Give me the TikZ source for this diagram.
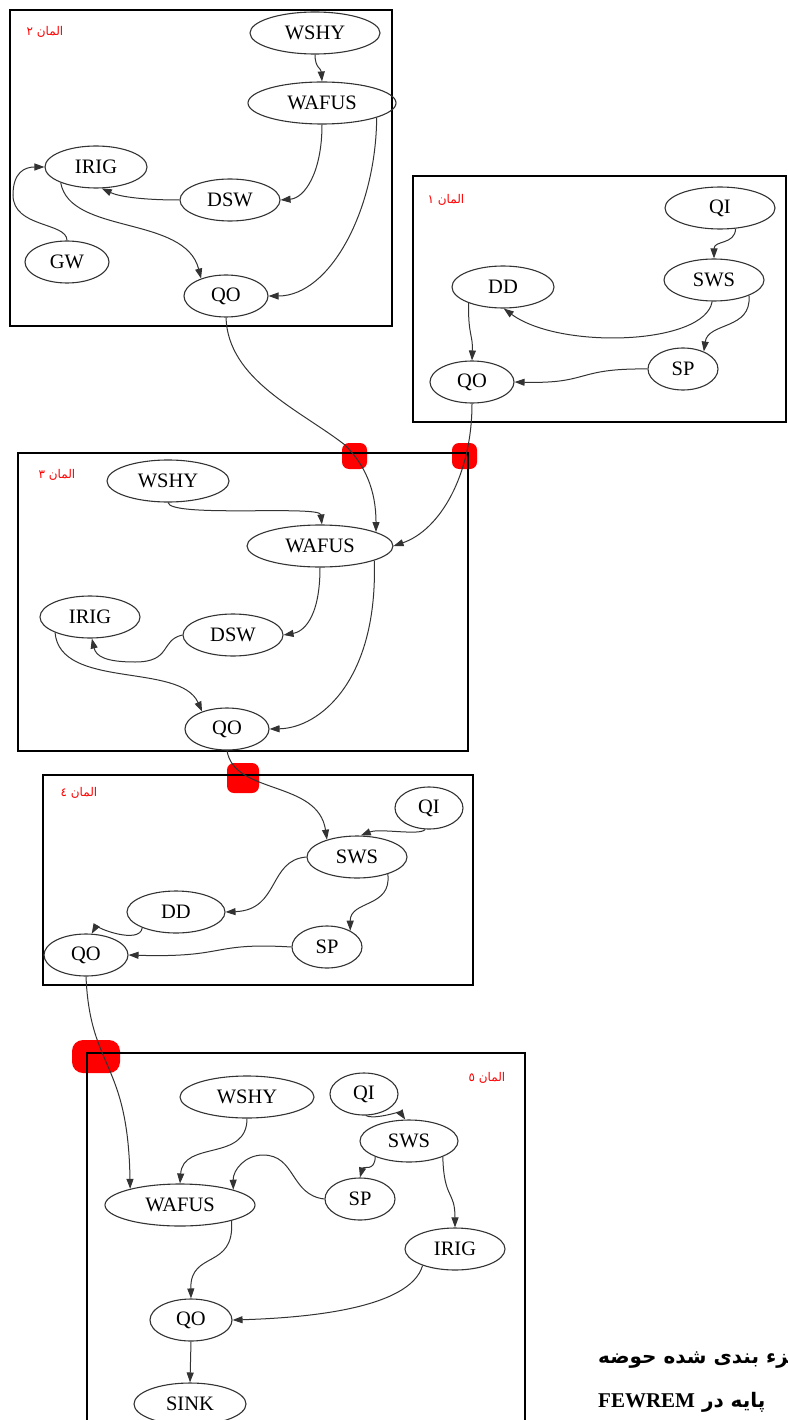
\documentclass[tikz,border=0pt]{standalone}
\usepackage{fontspec}
\usetikzlibrary{shapes.geometric,arrows.meta}
\TeXXeTstate=1
\newfontfamily\nodefont{Liberation Serif}
\newfontfamily\arabicfont[Script=Arabic]{DejaVu Sans}
\newfontfamily\capserif{Liberation Serif}
\tikzset{
  box/.style={draw=black, line width=2pt},
  nd/.style={draw=black!80, ellipse, line width=1.1pt, inner sep=0pt, minimum height=42pt,
             font=\nodefont\fontsize{20.5}{22}\selectfont},
  ed/.style={draw=black!80, line width=1pt, -{Triangle[length=10pt,width=7pt]}},
  reddot/.style={fill=red, rounded corners=7pt},
  lbl/.style={text=red, inner sep=0pt, font=\arabicfont\fontsize{12}{14}\selectfont},
  captxt/.style={inner sep=0pt, anchor=west, font=\arabicfont\bfseries\fontsize{20}{24}\selectfont}
}
\begin{document}
\begin{tikzpicture}[x=1pt,y=-1pt]
\useasboundingbox (0,0) rectangle (787,1420);
\fill[white] (0,0) rectangle (787,1420);

% red junction marks
\fill[reddot] (342,443) rectangle (367,469);
\fill[reddot] (452,443) rectangle (477,469);
\fill[reddot] (227,763) rectangle (259,793);
\fill[reddot, rounded corners=11pt] (72,1040) rectangle (120,1073);

% boxes
\draw[box] (10,10) rectangle (392,326);
\draw[box] (413,176) rectangle (786,422);
\draw[box] (18,453) rectangle (468,751);
\draw[box] (43,775) rectangle (473,985);
\draw[box] (87,1430) -- (87,1053) -- (525,1053) -- (525,1430);

% labels
\node[lbl] (lab2) at (45,32) {\beginR المان ٢\endR};
\node[lbl] (lab1) at (446,200) {\beginR المان ١\endR};
\node[lbl] (lab3) at (57,475) {\beginR المان ٣\endR};
\node[lbl] (lab4) at (79,793) {\beginR المان ٤\endR};
\node[lbl] (lab5) at (487,1078) {\beginR المان ٥\endR};

% ---- box 2
\node[nd, minimum width=130pt] (wshyB) at (315,33) {WSHY};
\node[nd, minimum width=148pt] (wafusB) at (322,103) {WAFUS};
\node[nd, minimum width=102pt] (irigB) at (96,167) {IRIG};
\node[nd, minimum width=100pt] (dswB) at (230,200) {DSW};
\node[nd, minimum width=84pt] (gwB) at (67,262) {GW};
\node[nd, minimum width=84pt] (qoB) at (226,296) {QO};
% ---- box 1
\node[nd, minimum width=110pt] (qiA) at (720,208) {QI};
\node[nd, minimum width=100pt] (swsA) at (714,280) {SWS};
\node[nd, minimum width=102pt] (ddA) at (503,287) {DD};
\node[nd, minimum width=70pt] (spA) at (683,369) {SP};
\node[nd, minimum width=84pt] (qoA) at (472,382) {QO};
% ---- box 3
\node[nd, minimum width=122pt] (wshyC) at (168,481) {WSHY};
\node[nd, minimum width=146pt] (wafusC) at (320,546) {WAFUS};
\node[nd, minimum width=100pt] (irigC) at (90,617) {IRIG};
\node[nd, minimum width=100pt] (dswC) at (233,635) {DSW};
\node[nd, minimum width=84pt] (qoC) at (227,729) {QO};
% ---- box 4
\node[nd, minimum width=68pt] (qiD) at (429,808) {QI};
\node[nd, minimum width=100pt] (swsD) at (357,857) {SWS};
\node[nd, minimum width=98pt] (ddD) at (176,912) {DD};
\node[nd, minimum width=70pt] (spD) at (327,947) {SP};
\node[nd, minimum width=84pt] (qoD) at (86,955) {QO};
% ---- box 5
\node[nd, minimum width=134pt] (wshyE) at (247,1097) {WSHY};
\node[nd, minimum width=68pt] (qiE) at (364,1094) {QI};
\node[nd, minimum width=98pt] (swsE) at (409,1141) {SWS};
\node[nd, minimum width=150pt] (wafusE) at (180,1205) {WAFUS};
\node[nd, minimum width=70pt] (spE) at (360,1199) {SP};
\node[nd, minimum width=100pt] (irigE) at (455,1249) {IRIG};
\node[nd, minimum width=82pt] (qoE) at (191,1320) {QO};
\node[nd, minimum width=112pt] (sinkE) at (190,1404) {SINK};

% ---- edges box 2
\draw[ed] (wshyB.south) .. controls (315,68) and (321,68) .. (wafusB.north);
\draw[ed] (wafusB.south) .. controls (322,172) and (305,198) .. (dswB.east);
\draw[ed] (wafusB.-15) .. controls (376,210) and (330,296) .. (qoB.east);
\draw[ed] (dswB.west) .. controls (145,200) and (120,197) .. (irigB.-75);
\draw[ed] (gwB.north) .. controls (67,222) and (13,228) .. (13,195)
          .. controls (13,172) and (25,167) .. (irigB.west);
\draw[ed] (irigB.204) .. controls (70,235) and (185,215) .. (qoB.145);
\draw[ed] (qoB.south) .. controls (228,380) and (300,410) .. (345,445)
          .. controls (365,465) and (376,490) .. (wafusC.14);
% ---- edges box 1
\draw[ed] (qiA.-53) .. controls (735,245) and (714,240) .. (swsA.north);
\draw[ed] (swsA.-95) .. controls (705,345) and (560,350) .. (ddA.-88);
\draw[ed] (swsA.-24) .. controls (752,330) and (708,322) .. (spA.40);
\draw[ed] (spA.west) .. controls (575,368) and (590,384) .. (qoA.east);
\draw[ed] (ddA.205) .. controls (468,335) and (473,335) .. (qoA.north);
\draw[ed] (qoA.south) .. controls (472,475) and (440,530) .. (wafusC.east);
% ---- edges box 3
\draw[ed] (wshyC.south) .. controls (170,518) and (320,505) .. (wafusC.85);
\draw[ed] (wafusC.south) .. controls (320,620) and (302,632) .. (dswC.east);
\draw[ed] (wafusC.-15) .. controls (378,680) and (320,728) .. (qoC.east);
\draw[ed] (dswC.west) .. controls (160,640) and (172,662) .. (135,662)
          .. controls (105,662) and (96,656) .. (irigC.-85);
\draw[ed] (irigC.204) .. controls (60,690) and (180,662) .. (qoC.145);
\draw[ed] (qoC.south) .. controls (234,795) and (318,780) .. (swsD.150);
% ---- edges box 4
\draw[ed] (qiD.-100) .. controls (420,836) and (380,828) .. (swsD.80);
\draw[ed] (swsD.west) .. controls (268,860) and (280,910) .. (ddD.east);
\draw[ed] (swsD.-29) .. controls (392,908) and (350,900) .. (spD.35);
\draw[ed] (spD.west) .. controls (210,942) and (228,958) .. (qoD.east);
\draw[ed] (ddD.205) .. controls (140,945) and (95,928) .. (qoD.75);
\draw[ed] (qoD.south) .. controls (90,1070) and (128,1060) .. (wafusE.162);
% ---- edges box 5
\draw[ed] (qiE.-85) .. controls (372,1120) and (400,1112) .. (swsE.100);
\draw[ed] (swsE.205) .. controls (375,1172) and (363,1166) .. (spE.north);
\draw[ed] (swsE.-25) .. controls (444,1200) and (455,1190) .. (irigE.north);
\draw[ed] (wshyE.south) .. controls (247,1162) and (183,1140) .. (wafusE.north);
\draw[ed] (spE.west) .. controls (290,1195) and (296,1155) .. (263,1155)
          .. controls (245,1155) and (233,1170) .. (wafusE.16);
\draw[ed] (wafusE.-17) .. controls (235,1270) and (190,1250) .. (qoE.north);
\draw[ed] (irigE.207) .. controls (410,1310) and (300,1318) .. (qoE.east);
\draw[ed] (qoE.south) -- (sinkE.north);

% caption (cut by the right edge, as in the reference)
\node[captxt] (cap1) at (598,1360) {\beginR جزء بندی شده حوضه\endR};
\node[captxt] (cap2) at (598,1402) {\beginR پایه در {\capserif\bfseries\fontsize{21}{24}\selectfont\beginL FEWREM\endL}\endR};
\end{tikzpicture}
\end{document}
